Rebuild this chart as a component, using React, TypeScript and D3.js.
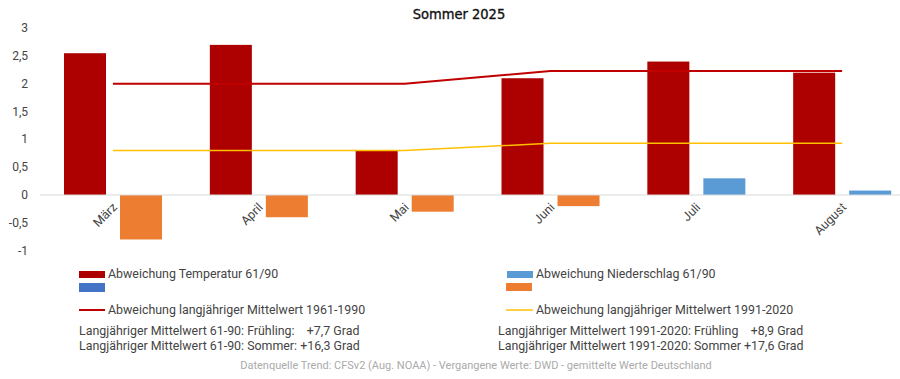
import React from "react";
import * as d3 from "d3";

const months = ["März", "April", "Mai", "Juni", "Juli", "August"];
const tempDev = [2.55, 2.7, 0.8, 2.1, 2.4, 2.2];
const precipDev = [-0.8, -0.4, -0.3, -0.2, 0.3, 0.08];
const mean6190 = [2.0, 2.0, 2.0, 2.23, 2.23, 2.23];
const mean9120 = [0.8, 0.8, 0.8, 0.93, 0.93, 0.93];
const yTicks = [-1, -0.5, 0, 0.5, 1, 1.5, 2, 2.5, 3];

const W = 900;
const H = 379;
const textColor = "#444";
const font = "Roboto, 'Noto Sans', sans-serif";
const fs = 12.4;

export default function App() {
  const x = d3.scaleBand<string>().domain(months).range([40, 915]).paddingInner(0).paddingOuter(0);
  const y = d3.scaleLinear().domain([-1, 3]).range([250.6, 28.2]);
  const bw = x.bandwidth();
  const barW = bw * (42 / 145.8);
  const off1 = bw * (24 / 145.8);
  const off2 = bw * (80 / 145.8);
  const fmt = (v: number) => String(v).replace(".", ",");
  const cx = (m: string) => (x(m) as number) + bw / 2;
  const line = d3
    .line<number>()
    .x((_, i) => cx(months[i]))
    .y((d) => y(d));

  return (
    <svg
      width={W}
      height={H}
      style={{ position: "absolute", left: 0, top: 0, background: "#fff" }}
      fontFamily={font}
    >
      <text x={459} y={19} textAnchor="middle" fontSize={14.5} fontFamily="'Liberation Sans Narrow', 'DejaVu Sans Condensed', sans-serif" fill="#111" stroke="#111" strokeWidth={0.35}>
        Sommer 2025
      </text>
      {yTicks.map((t) => (
        <text key={t} x={28} y={y(t) + 4} textAnchor="end" fontSize={12} fill={textColor}>
          {fmt(t)}
        </text>
      ))}
      {months.map((m, i) => (
        <rect
          key={"t" + m}
          x={(x(m) as number) + off1}
          width={barW}
          y={y(Math.max(0, tempDev[i]))}
          height={Math.abs(y(tempDev[i]) - y(0))}
          fill="#AD0000"
        />
      ))}
      {months.map((m, i) => (
        <rect
          key={"p" + m}
          x={(x(m) as number) + off2}
          width={barW}
          y={y(Math.max(0, precipDev[i]))}
          height={Math.abs(y(precipDev[i]) - y(0))}
          fill={precipDev[i] < 0 ? "#ED7D31" : "#5B9BD5"}
        />
      ))}
      <line x1={40} x2={900} y1={y(0)} y2={y(0)} stroke="#d9d9d9" strokeWidth={1} />
      <path d={line(mean6190) || ""} fill="none" stroke="#C00000" strokeWidth={2} />
      <path d={line(mean9120) || ""} fill="none" stroke="#FFC000" strokeWidth={1.5} />
      {months.map((m) => (
        <text
          key={"l" + m}
          transform={`translate(${cx(m) + 5},${y(0) + 13}) rotate(-45)`}
          textAnchor="end"
          fontSize={12.4}
          fill={textColor}
        >
          {m}
        </text>
      ))}
      {/* legend left */}
      <rect x={79} y={271} width={26} height={7} fill="#AD0000" />
      <text x={108} y={278} fontSize={fs} fill={textColor}>Abweichung Temperatur 61/90</text>
      <rect x={79} y={283} width={26} height={9} fill="#4472C4" />
      <line x1={79} x2={105} y1={310} y2={310} stroke="#C00000" strokeWidth={2} />
      <text x={108} y={314} fontSize={fs} fill={textColor}>Abweichung langjähriger Mittelwert 1961-1990</text>
      <text x={79} y={335} fontSize={fs} fill={textColor} style={{ whiteSpace: "pre" }}>
        {"Langjähriger Mittelwert 61-90: Frühling:    +7,7 Grad"}
      </text>
      <text x={79} y={350} fontSize={fs} fill={textColor} style={{ whiteSpace: "pre" }}>
        {"Langjähriger Mittelwert 61-90: Sommer: +16,3 Grad"}
      </text>
      {/* legend right */}
      <rect x={507} y={271} width={26} height={7} fill="#5B9BD5" />
      <text x={536} y={278} fontSize={fs} fill={textColor}>Abweichung Niederschlag 61/90</text>
      <rect x={506} y={283} width={26} height={8} fill="#ED7D31" />
      <line x1={506} x2={533} y1={310} y2={310} stroke="#FFC000" strokeWidth={1.5} />
      <text x={536} y={314} fontSize={fs} fill={textColor}>Abweichung langjähriger Mittelwert 1991-2020</text>
      <text x={498} y={335} fontSize={fs} fill={textColor} style={{ whiteSpace: "pre" }}>
        {"Langjähriger Mittelwert 1991-2020: Frühling    +8,9 Grad"}
      </text>
      <text x={498} y={350} fontSize={fs} fill={textColor} style={{ whiteSpace: "pre" }}>
        {"Langjähriger Mittelwert 1991-2020: Sommer +17,6 Grad"}
      </text>
      <text x={476} y={369} textAnchor="middle" fontSize={11} fill="#aaa">
        Datenquelle Trend: CFSv2 (Aug. NOAA) - Vergangene Werte: DWD - gemittelte Werte Deutschland
      </text>
    </svg>
  );
}
